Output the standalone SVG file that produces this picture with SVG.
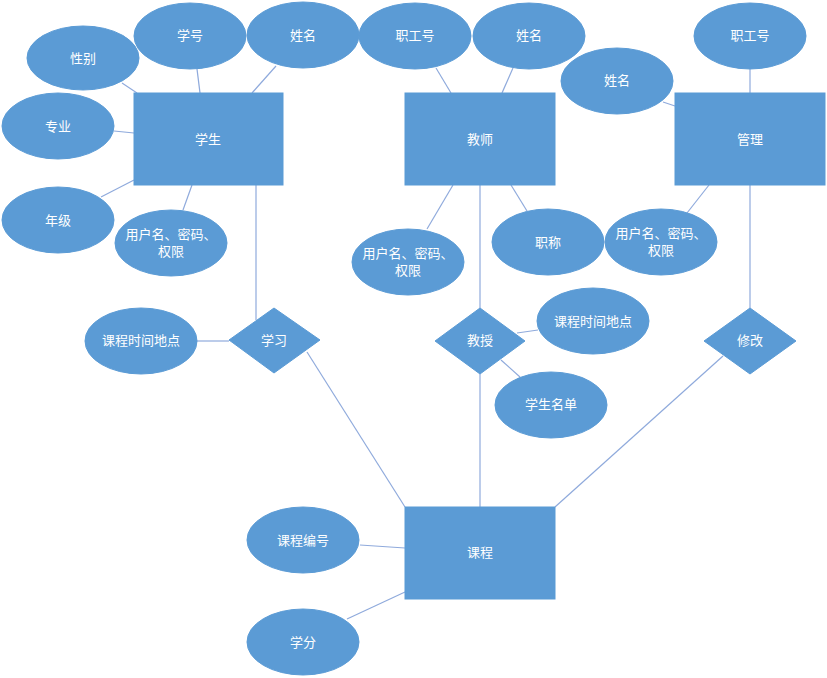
<svg xmlns="http://www.w3.org/2000/svg" width="827" height="678" viewBox="0 0 827 678">
<style>
.n{fill:#5B9BD5;stroke:#5B9BD5;stroke-width:1}
.t{fill:#ffffff;font-family:"Liberation Sans","Noto Sans CJK SC",sans-serif;font-size:13px;text-anchor:middle;dominant-baseline:central}
.c line{stroke:#8FAADC;stroke-width:1.2}
</style>
<rect width="827" height="678" fill="#ffffff"/>
<g class="c" id="connectors">
<line x1="122" y1="83" x2="137" y2="93"/>
<line x1="197" y1="69" x2="200" y2="93"/>
<line x1="276" y1="66" x2="252" y2="93"/>
<line x1="114" y1="131" x2="134" y2="133"/>
<line x1="101" y1="197" x2="134" y2="180"/>
<line x1="183" y1="210" x2="192" y2="185"/>
<line x1="256" y1="185" x2="256" y2="320"/>
<line x1="197" y1="341" x2="229" y2="341"/>
<line x1="307" y1="352" x2="405" y2="507"/>
<line x1="436" y1="68" x2="451" y2="93"/>
<line x1="513" y1="68" x2="502" y2="93"/>
<line x1="453" y1="185" x2="427" y2="229"/>
<line x1="511" y1="185" x2="527" y2="211"/>
<line x1="480" y1="185" x2="480" y2="308"/>
<line x1="480" y1="374" x2="480" y2="507"/>
<line x1="517" y1="333" x2="538" y2="330"/>
<line x1="501" y1="360" x2="520" y2="377"/>
<line x1="663" y1="102" x2="675" y2="106"/>
<line x1="750" y1="69" x2="750" y2="93"/>
<line x1="709" y1="185" x2="687" y2="213"/>
<line x1="750" y1="185" x2="750" y2="308"/>
<line x1="723" y1="356" x2="555" y2="507"/>
<line x1="360" y1="545" x2="405" y2="548"/>
<line x1="347" y1="619" x2="405" y2="592"/>
</g>
<g id="student"><rect class="n" x="134" y="93" width="149" height="92"/><text class="t" x="208" y="139">学生</text></g>
<g id="teacher"><rect class="n" x="405" y="93" width="150" height="92"/><text class="t" x="480" y="139">教师</text></g>
<g id="manage"><rect class="n" x="675" y="93" width="150" height="92"/><text class="t" x="750" y="139">管理</text></g>
<g id="course"><rect class="n" x="405" y="507" width="150" height="92"/><text class="t" x="480" y="552">课程</text></g>
<g id="s_gender"><ellipse class="n" cx="83" cy="58" rx="56" ry="32"/><text class="t" x="83" y="58">性别</text></g>
<g id="s_id"><ellipse class="n" cx="190" cy="36" rx="56" ry="33"/><text class="t" x="190" y="35">学号</text></g>
<g id="s_name"><ellipse class="n" cx="303" cy="35" rx="56" ry="33"/><text class="t" x="303" y="35">姓名</text></g>
<g id="s_major"><ellipse class="n" cx="58" cy="126" rx="56" ry="33"/><text class="t" x="58" y="126">专业</text></g>
<g id="s_grade"><ellipse class="n" cx="58" cy="220" rx="56" ry="33"/><text class="t" x="58" y="220">年级</text></g>
<g id="s_user"><ellipse class="n" cx="171" cy="243" rx="56" ry="33"/><text class="t" x="171" y="234">用户名、密码、</text><text class="t" x="171" y="251">权限</text></g>
<g id="t_id"><ellipse class="n" cx="415" cy="36" rx="56" ry="33"/><text class="t" x="415" y="35">职工号</text></g>
<g id="t_name"><ellipse class="n" cx="529" cy="36" rx="56" ry="33"/><text class="t" x="529" y="35">姓名</text></g>
<g id="t_user"><ellipse class="n" cx="408" cy="262" rx="56" ry="33"/><text class="t" x="408" y="253">用户名、密码、</text><text class="t" x="408" y="270">权限</text></g>
<g id="t_title"><ellipse class="n" cx="548" cy="242" rx="56" ry="33"/><text class="t" x="548" y="242">职称</text></g>
<g id="m_name"><ellipse class="n" cx="617" cy="81" rx="56" ry="33"/><text class="t" x="617" y="80">姓名</text></g>
<g id="m_id"><ellipse class="n" cx="750" cy="36" rx="56" ry="33"/><text class="t" x="750" y="35">职工号</text></g>
<g id="m_user"><ellipse class="n" cx="661" cy="242" rx="56" ry="33"/><text class="t" x="661" y="233">用户名、密码、</text><text class="t" x="661" y="250">权限</text></g>
<g id="study"><polygon class="n" points="274,308 320,340 274,373 229,340"/><text class="t" x="274" y="340">学习</text></g>
<g id="teach"><polygon class="n" points="480,308 525,341 480,374 435,341"/><text class="t" x="480" y="340">教授</text></g>
<g id="modify"><polygon class="n" points="750,308 796,341 750,374 704,341"/><text class="t" x="750" y="340">修改</text></g>
<g id="study_time"><ellipse class="n" cx="141" cy="341" rx="56" ry="33"/><text class="t" x="141" y="340">课程时间地点</text></g>
<g id="teach_time"><ellipse class="n" cx="593" cy="321" rx="56" ry="33"/><text class="t" x="593" y="321">课程时间地点</text></g>
<g id="teach_list"><ellipse class="n" cx="551" cy="405" rx="56" ry="33"/><text class="t" x="551" y="404">学生名单</text></g>
<g id="c_id"><ellipse class="n" cx="303" cy="540" rx="56" ry="33"/><text class="t" x="303" y="540">课程编号</text></g>
<g id="c_credit"><ellipse class="n" cx="303" cy="642" rx="56" ry="33"/><text class="t" x="303" y="642">学分</text></g>
</svg>
